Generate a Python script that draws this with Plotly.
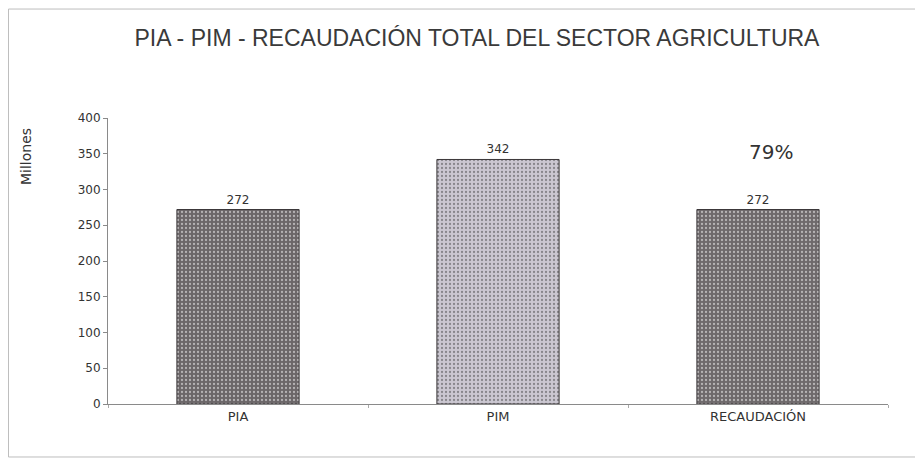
import plotly.graph_objects as go

# Chart data
categories = ["PIA", "PIM", "RECAUDACIÓN"]
values = [272, 342, 272]
bar_colors = ["#6b6668", "#cbc7d1", "#6e696b"]
pct_label = "79%"
pct_y = 352

FONT = "DejaVu Sans, Arial"

fig = go.Figure()

fig.add_trace(go.Bar(
    x=categories, y=values,
    width=0.47,
    marker=dict(
        color=bar_colors,
        line=dict(color="#3a3638", width=1),
        pattern=dict(shape=".", fgcolor="#4a4547", size=4, solidity=0.25),
    ),
    text=[str(v) for v in values],
    textposition="outside",
    textfont=dict(family=FONT, size=12, color="#333333"),
    cliponaxis=False,
))

# page has an 8px body margin, so the figure is a little smaller than the window
fig.update_layout(
    width=915, height=454,
    margin=dict(l=100, r=35, t=110, b=58),
    plot_bgcolor="white", paper_bgcolor="white",
    showlegend=False,
    font=dict(family=FONT, color="#333333"),
    title=dict(
        text="PIA - PIM - RECAUDACIÓN TOTAL DEL SECTOR AGRICULTURA",
        xref="paper", x=0.473, xanchor="center", y=0.934, yanchor="middle",
        font=dict(family="Liberation Sans, Arial", size=23, color="#3a3a3a"),
    ),
)

fig.update_yaxes(
    range=[0, 400], dtick=50,
    showgrid=False, zeroline=False,
    showline=True, linecolor="#8a8a8a", linewidth=1,
    ticks="outside", ticklen=4, tickcolor="#8a8a8a",
    tickfont=dict(family=FONT, size=12, color="#333333"),
)
fig.update_xaxes(
    showgrid=False,
    showline=True, linecolor="#8a8a8a", linewidth=1,
    ticks="outside", ticklen=3, tickcolor="#aaaaaa",
    tickson="boundaries",
    tickfont=dict(family=FONT, size=13, color="#333333"),
)

# axis title placed near the top, as in the original
fig.add_annotation(
    text="Millones", textangle=-90,
    xref="paper", yref="paper", x=-0.105, y=0.864,
    xanchor="center", yanchor="middle",
    showarrow=False, font=dict(family=FONT, size=14, color="#333333"),
)

# percentage above the last bar
fig.add_annotation(
    text=pct_label, x=categories[2], y=pct_y,
    xshift=13, showarrow=False,
    font=dict(family=FONT, size=20, color="#333333"),
)

# outer frame of the chart
fig.add_shape(
    type="rect", xref="paper", yref="paper",
    x0=-0.1276, x1=1.041, y0=-0.1853, y1=1.381,
    line=dict(color="#bdbdbd", width=1),
)

fig.write_html("out.html")
